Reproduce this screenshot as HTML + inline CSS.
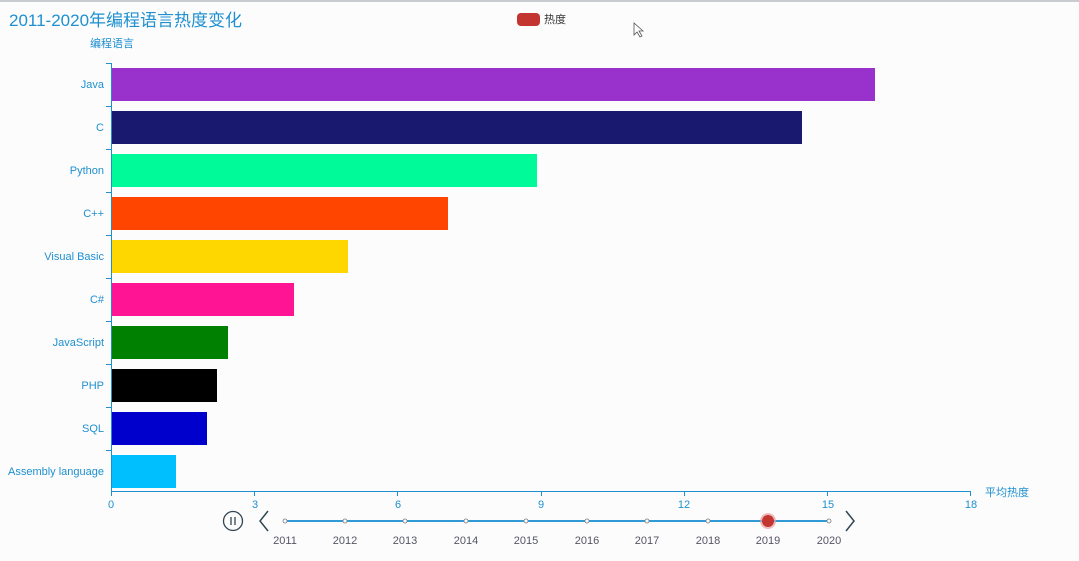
<!DOCTYPE html>
<html><head><meta charset="utf-8"><style>
body{margin:0;background:#fcfcfc;}
svg{display:block;font-family:"Liberation Sans","Noto Sans CJK SC",sans-serif;}
</style></head><body>
<svg width="1079" height="561" viewBox="0 0 1079 561">
<rect width="1079" height="561" fill="#fcfcfc"/>
<rect width="1079" height="2" fill="#c8ccd0"/>
<text x="9" y="26" font-size="17" fill="#1e90d0">2011-2020年编程语言热度变化</text>
<rect x="517" y="13" width="23" height="13" rx="4" fill="#c23531"/>
<text x="544" y="23" font-size="11" fill="#333">热度</text>
<path d="M634 23 L634 35 L637 32 L640 37 L642 36 L639 31 L643 31 Z" fill="#fff" stroke="#555" stroke-width="0.8"/>
<text x="112" y="47" font-size="11" fill="#1e90d0" text-anchor="middle">编程语言</text>
<g fill-opacity="1">
<rect x="112" y="68" width="763" height="33" fill="#9932cc"/>
<rect x="112" y="111" width="690" height="33" fill="#191970"/>
<rect x="112" y="154" width="425" height="33" fill="#00fa9a"/>
<rect x="112" y="197" width="336" height="33" fill="#ff4500"/>
<rect x="112" y="240" width="236" height="33" fill="#ffd700"/>
<rect x="112" y="283" width="182" height="33" fill="#ff1493"/>
<rect x="112" y="326" width="116" height="33" fill="#008000"/>
<rect x="112" y="369" width="105" height="33" fill="#000000"/>
<rect x="112" y="412" width="95" height="33" fill="#0000cd"/>
<rect x="112" y="455" width="64" height="33" fill="#00bfff"/>
</g>
<g stroke="#1e90d0" stroke-width="1">
<line x1="111.5" y1="63" x2="111.5" y2="492"/>
<line x1="111" y1="491.5" x2="971" y2="491.5"/>
<path d="M106 63.5h5M106 106.5h5M106 149.5h5M106 192.5h5M106 235.5h5M106 278.5h5M106 321.5h5M106 364.5h5M106 407.5h5M106 450.5h5"/>
<path d="M111.5 491v5M254.5 491v5M397.5 491v5M541.5 491v5M684.5 491v5M827.5 491v5M970.5 491v5"/>
</g>
<g font-size="11" fill="#1e90d0" text-anchor="end">
<text x="104" y="88">Java</text><text x="104" y="131">C</text><text x="104" y="174">Python</text>
<text x="104" y="217">C++</text><text x="104" y="260">Visual Basic</text><text x="104" y="303">C#</text>
<text x="104" y="346">JavaScript</text><text x="104" y="389">PHP</text><text x="104" y="432">SQL</text>
<text x="104" y="475">Assembly language</text>
</g>
<g font-size="11" fill="#1e90d0" text-anchor="middle">
<text x="111" y="508">0</text><text x="255" y="508">3</text><text x="398" y="508">6</text>
<text x="541" y="508">9</text><text x="684" y="508">12</text><text x="828" y="508">15</text><text x="971" y="508">18</text>
</g>
<text x="985" y="496" font-size="11" fill="#1e90d0">平均热度</text>
<circle cx="233" cy="521" r="9.5" fill="none" stroke="#304654" stroke-width="1.3"/>
<path d="M231 517v8M235 517v8" stroke="#304654" stroke-width="1.3"/>
<path d="M268 511 L260 521 L268 531" fill="none" stroke="#304654" stroke-width="1.5"/>
<path d="M846 511 L854 521 L846 531" fill="none" stroke="#304654" stroke-width="1.5"/>
<line x1="285" y1="521" x2="829" y2="521" stroke="#2f9ad6" stroke-width="2"/>
<g fill="#fff" stroke="#778" stroke-width="0.8">
<circle cx="285" cy="521" r="2"/><circle cx="345" cy="521" r="2"/><circle cx="405" cy="521" r="2"/>
<circle cx="466" cy="521" r="2"/><circle cx="526" cy="521" r="2"/><circle cx="587" cy="521" r="2"/>
<circle cx="647" cy="521" r="2"/><circle cx="708" cy="521" r="2"/><circle cx="829" cy="521" r="2"/>
</g>
<circle cx="768" cy="521" r="8" fill="#e8a0a0" opacity="0.7"/>
<circle cx="768" cy="521" r="6" fill="#c23531"/>
<g font-size="11" fill="#556" text-anchor="middle">
<text x="285" y="544">2011</text><text x="345" y="544">2012</text><text x="405" y="544">2013</text>
<text x="466" y="544">2014</text><text x="526" y="544">2015</text><text x="587" y="544">2016</text>
<text x="647" y="544">2017</text><text x="708" y="544">2018</text><text x="768" y="544">2019</text><text x="829" y="544">2020</text>
</g>
</svg>
</body></html>
